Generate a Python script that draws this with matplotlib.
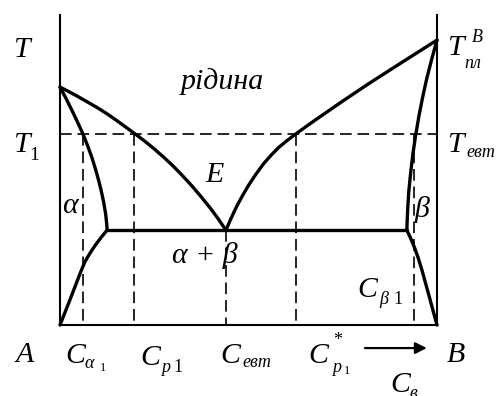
import matplotlib
matplotlib.use("Agg")
import matplotlib.pyplot as plt

# phase diagram A-B with eutectic, composition in % B, temperature in arb. units
T_A, T_B = 835, 1000
T_1 = 670
T_eut, C_eut = 333, 44.0
C_a1, C_p1, C_p1s, C_b1 = 6.1, 19.6, 62.5, 93.8
C_a_max, C_b_max = 12.5, 92.0

liq_left_x = [0, 2.5, 5, 7.5, 10, 12.5, 15, 17.5, 20, 22.5, 25, 27.5, 30,
              32.5, 35, 37.5, 40, 42, 44]
liq_left_T = [835, 818, 800, 781, 762, 741, 718, 694, 670, 645, 618, 589, 558,
              524, 488, 449, 408, 372, 333]

liq_right_x = [44, 45.5, 47, 48.5, 50, 52, 54, 56, 58, 60, 62.5, 65, 68,
               71.5, 75, 78.5, 82, 86, 90, 95, 100]
liq_right_T = [333, 378, 420, 456, 490, 530, 566, 596, 623, 645, 670, 694, 722,
               754, 786, 817, 848, 882, 916, 958, 1000]

sol_left_x = [0, 1.6, 3.1, 4.55, 6.1, 7.3, 8.4, 9.35, 10.2, 10.95, 11.6, 12.1,
              12.35, 12.5]
sol_left_T = [835, 795, 755, 715, 670, 630, 590, 550, 510, 470, 430, 390,
              360, 333]

solv_left_x = [12.5, 11.0, 9.3, 8.0, 6.6, 5.3, 4.0, 2.0, 0]
solv_left_T = [333, 309, 279, 253, 222, 180, 135, 67, 0]

sol_right_x = [100, 98.6, 97.3, 96.2, 95.2, 94.35, 93.6, 93.0, 92.5, 92.2, 92.0]
sol_right_T = [1000, 933, 866, 800, 733, 667, 600, 533, 466, 400, 333]

solv_right_x = [92.0, 93, 94, 95, 96, 97, 98, 99, 100]
solv_right_T = [333, 305, 273, 236, 193, 145, 97, 48, 0]

fig = plt.figure(figsize=(4.98, 3.96), dpi=100)
ax = fig.add_axes([0.1205, 0.1793, 0.757, 0.7828])
ax.set_xlim(0, 100)
ax.set_ylim(0, 1088)
ax.set_xticks([])
ax.set_yticks([])
ax.spines['top'].set_visible(False)
for s in ('left', 'right', 'bottom'):
    ax.spines[s].set_linewidth(1.5)

kw = dict(color='black', lw=2.4, solid_joinstyle='round', solid_capstyle='round', clip_on=False)
ax.plot(liq_left_x, liq_left_T, **kw)
ax.plot(liq_right_x, liq_right_T, **kw)
ax.plot(sol_left_x, sol_left_T, **kw)
ax.plot(solv_left_x, solv_left_T, **kw)
ax.plot(sol_right_x, sol_right_T, **kw)
ax.plot(solv_right_x, solv_right_T, **kw)
ax.plot([C_a_max, C_b_max], [T_eut, T_eut], **kw)

# dashed construction lines
dkw = dict(color='black', lw=1.2, linestyle=(0, (7, 3.5)))
ax.plot([0, 100], [T_1, T_1], **dkw)
for c in (C_a1, C_p1, C_p1s, C_b1):
    ax.plot([c, c], [T_1, 0], **dkw)
ax.plot([C_eut, C_eut], [T_eut, 0], **dkw)

FONT = 'Liberation Serif'
BIG = 21.5


def put(x, y, s, size=BIG, style='italic'):
    ax.text(x, y, s, fontsize=size, fontstyle=style, family=FONT,
            ha='left', va='baseline', clip_on=False)


# temperature labels
put(-12.5, 940, 'T')
put(-12.5, 607, 'T')
put(-8.3, 580, '1', size=14, style='normal')
put(102.7, 947, 'T')
put(109.3, 995, 'B', size=13)
put(107.2, 902, 'пл', size=13)
put(102.7, 607, 'T')
put(107.8, 590, 'евт', size=13)

# region labels
put(32.0, 828, 'рідина')
put(38.5, 502, 'E')
put(0.5, 393, 'α')
put(94.0, 378, 'β')
put(29.7, 218, 'α + β')
put(79.0, 98, 'C')
put(84.6, 72, 'β', size=13)
put(88.5, 72, '1', size=13, style='normal')

# composition labels
put(-11.9, -130, 'A')
put(1.3, -133, 'C')
put(6.4, -150, 'α', size=13)
put(10.5, -160, '1', size=9, style='normal')
put(21.2, -140, 'C')
put(26.8, -165, 'p', size=13)
put(30.1, -165, '1', size=13, style='normal')
put(42.4, -133, 'C')
put(48.3, -147, 'евт', size=13)
put(65.8, -133, 'C')
put(72.4, -70, '*', size=13, style='normal')
put(72.2, -165, 'p', size=13)
put(75.2, -172, '1', size=9, style='normal')
put(102.7, -130, 'B')
put(87.5, -235, 'C')
put(92.8, -256, 'в', size=13)

ax.annotate('', xy=(97.3, -81), xytext=(80.9, -81), xycoords='data',
            annotation_clip=False,
            arrowprops=dict(arrowstyle='-|>', color='black', lw=1.6,
                            mutation_scale=17, shrinkA=0, shrinkB=0))

fig.savefig('out.png', dpi=100)
